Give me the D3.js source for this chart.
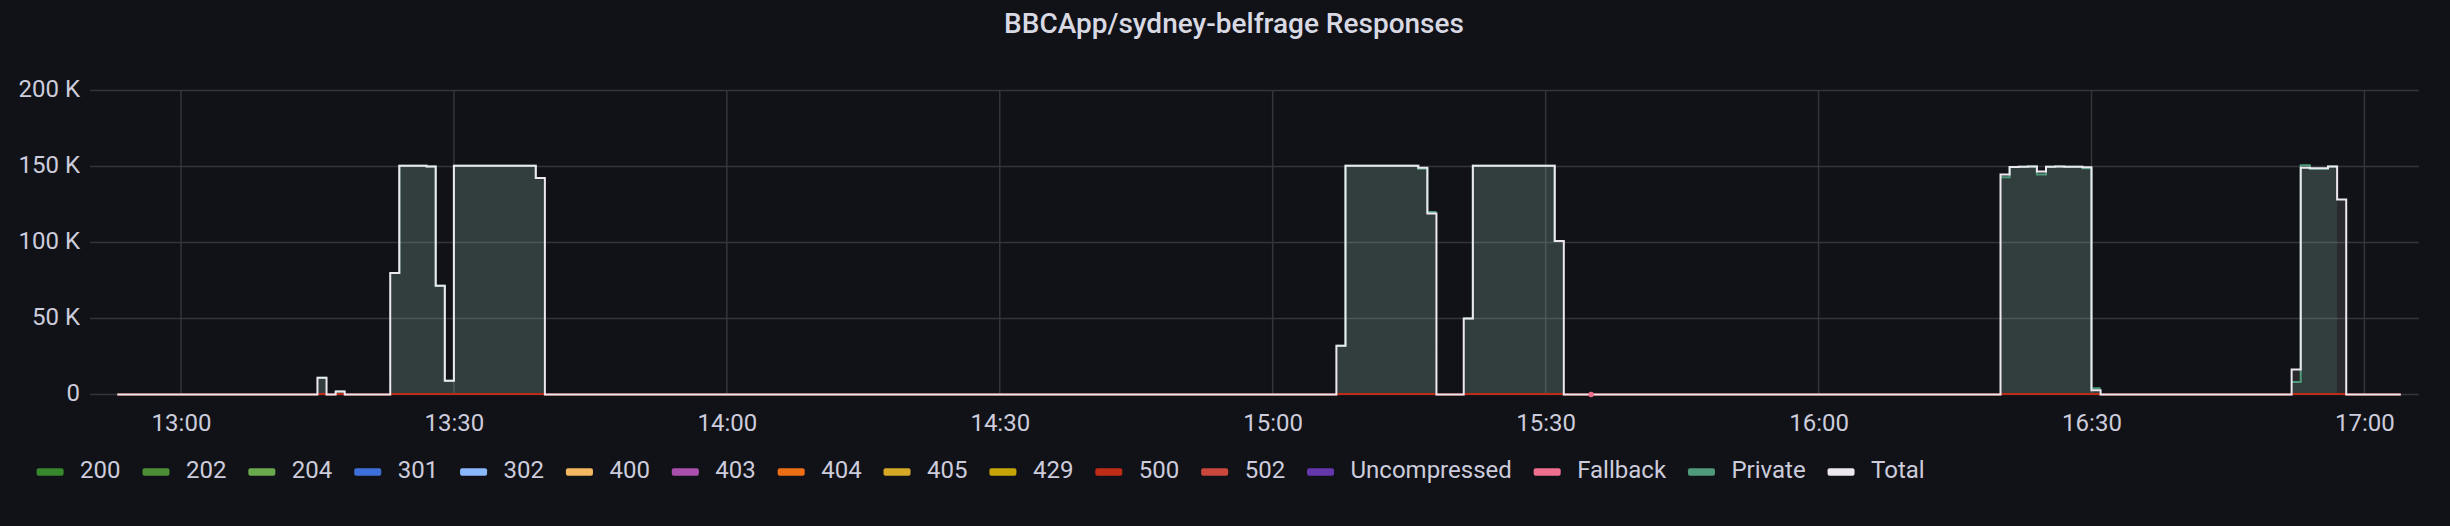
<!DOCTYPE html>
<html><head><meta charset="utf-8">
<script src="https://cdn.jsdelivr.net/npm/d3@7"></script>
<style>html,body{margin:0;padding:0;background:#111217;} svg{display:block}</style>
</head><body>
<svg id="chart" width="2450" height="526"></svg>
<script>
// ---------------- data ----------------
const chartTitle = "BBCApp/sydney-belfrage Responses";
const seriesNames = ["200","202","204","301","302","400","403","404","405","429","500","502","Uncompressed","Fallback","Private","Total"];
const seriesColors = ["#37872d","#4b8e35","#69a84c","#3d71d9","#8ab8ff","#f4b860","#a950ae","#ec6e15","#d6a828","#c4a406","#bf2b17","#c9473b","#6437ad","#ef6f8f","#4e9a7b","#ede7ef"];
const yTickValues = [0, 50000, 100000, 150000, 200000];
const yTickLabels = ["0", "50 K", "100 K", "150 K", "200 K"];
const xTickLabels = ["13:00","13:30","14:00","14:30","15:00","15:30","16:00","16:30","17:00"];
const timeRange = ["12:50", "17:06"];
const dataEnd = "17:04";

// 1-minute samples, given as change points: [minute, value]; value holds until the next entry (null = no data)
const total = [["12:53",0],["13:15",11000],["13:16",0],["13:17",2000],["13:18",0],
  ["13:23",80000],["13:24",150500],["13:27",150000],["13:28",71500],["13:29",9000],["13:30",150500],["13:39",142500],["13:40",0],
  ["15:07",32000],["15:08",150500],["15:16",149100],["15:17",119100],["15:18",0],
  ["15:21",50000],["15:22",150500],["15:31",101000],["15:32",0],
  ["16:20",144700],["16:21",149600],["16:22",149800],["16:23",150000],["16:24",146700],["16:25",149800],["16:26",150000],["16:27",149800],["16:29",149500],["16:30",2800],["16:31",0],
  ["16:52",16400],["16:53",149100],["16:54",148900],["16:56",150000],["16:57",128300],["16:58",0]];
const privateResp = [["13:15",11000],["13:16",null],["13:17",2000],["13:18",null],
  ["13:23",80000],["13:24",150500],["13:27",150000],["13:28",71500],["13:29",9000],["13:30",150500],["13:39",142500],["13:40",null],
  ["15:07",32000],["15:08",150500],["15:16",148500],["15:17",120000],["15:18",null],
  ["15:21",50000],["15:22",150500],["15:31",101000],["15:32",null],
  ["16:20",143000],["16:21",149600],["16:22",149800],["16:23",150000],["16:24",144700],["16:25",149800],["16:26",150000],["16:27",149800],["16:29",148900],["16:30",4100],["16:31",null],
  ["16:52",8300],["16:53",150900],["16:54",148500],["16:56",150000],["16:57",null]];
const status500 = [["12:53",0],["13:15",400],["13:16",0],["13:17",400],["13:18",0],["13:23",400],["13:40",0],
  ["15:07",400],["15:18",0],["15:21",400],["15:32",0],["16:20",400],["16:31",0],["16:52",400],["16:58",0]];
const fallbackPoints = [["15:35",0]];

// ---------------- drawing ----------------
const FONT = "Roboto, 'Noto Sans', sans-serif";
const T = s => { const [h,m] = s.split(":").map(Number); return new Date(2023,0,1,h,m); };
const svg = d3.select("#chart");

const x = d3.scaleTime().domain(timeRange.map(T)).range([90, 2419]);
const y = d3.scaleLinear().domain([0, 200000]).range([394.5, 90.5]);

svg.append("text").attr("x", 1234).attr("y", 33.3).attr("text-anchor","middle")
  .attr("font-family", FONT).attr("font-weight", 500).attr("font-size", 28).attr("fill","#d8d9e3").text(chartTitle);

const grid = svg.append("g");
grid.selectAll("line.h").data(yTickValues).join("line")
  .attr("x1", 90).attr("x2", 2419).attr("y1", d=>y(d)).attr("y2", d=>y(d))
  .attr("stroke","#34353a").attr("stroke-width",1.5);
const xTicks = xTickLabels.map(T);
grid.selectAll("line.v").data(xTicks).join("line")
  .attr("x1", d=>x(d)).attr("x2", d=>x(d)).attr("y1", y(200000)).attr("y2", y(0))
  .attr("stroke","#34353a").attr("stroke-width",1.5);

// axes (D3 axes, restyled)
const yAxis = svg.append("g").attr("transform","translate(80,0)")
  .call(d3.axisLeft(y).tickValues(yTickValues).tickFormat((d,i)=>yTickLabels[i]).tickSize(0).tickPadding(0));
yAxis.select(".domain").remove();
yAxis.selectAll("text").attr("font-family",FONT).attr("font-size",24).attr("fill","#ccccdc").attr("dy","0.27em");

const xAxis = svg.append("g").attr("transform","translate(0,406)")
  .call(d3.axisBottom(x).tickValues(xTicks).tickFormat(d3.timeFormat("%H:%M")).tickSize(0).tickPadding(0));
xAxis.select(".domain").remove();
xAxis.selectAll("text").attr("font-family",FONT).attr("font-size",24).attr("fill","#ccccdc").attr("dy","1.04em");

// convert change points into step segments
function segments(changes, endMinute) {
  const segs = []; let cur = null;
  for (let i = 0; i < changes.length; i++) {
    const [t, v] = changes[i];
    const nextT = i + 1 < changes.length ? changes[i+1][0] : endMinute;
    if (v === null) { cur = null; continue; }
    if (!cur) { cur = []; segs.push(cur); }
    cur.push([T(t), v]);
    const nextV = i + 1 < changes.length ? changes[i+1][1] : null;
    if (nextV === null) { cur.push([T(nextT), v]); cur = null; }
  }
  return segs;
}
const line = d3.line().x(d=>x(d[0])).y(d=>y(d[1])).curve(d3.curveStepAfter);
const area = d3.area().x(d=>x(d[0])).y0(y(0)).y1(d=>y(d[1])).curve(d3.curveStepAfter);
const col = name => seriesColors[seriesNames.indexOf(name)];

const fills = svg.append("g");
const strokes = svg.append("g");
function drawSeries(name, data, fill) {
  const segs = segments(data, dataEnd);
  if (fill) fills.append("g").selectAll("path").data(segs).join("path").attr("d", area).attr("fill", fill);
  strokes.append("g").selectAll("path").data(segs).join("path").attr("d", line)
    .attr("fill","none").attr("stroke", col(name)).attr("stroke-width", 2);
}
drawSeries("500", status500, null);
drawSeries("Private", privateResp, "rgba(78,154,123,0.17)");
drawSeries("Total", total, "rgba(255,255,255,0.1)");
strokes.append("g").selectAll("circle").data(fallbackPoints).join("circle")
  .attr("cx", d=>x(T(d[0]))).attr("cy", d=>y(d[1])).attr("r", 2.8).attr("fill", col("Fallback"));

// legend
const lg = svg.append("g");
let lx = 36.6;
seriesNames.forEach((n, i) => {
  lg.append("rect").attr("x", lx).attr("y", 468.3).attr("width", 27).attr("height", 7.4).attr("rx", 2)
    .attr("fill", seriesColors[i]);
  const t = lg.append("text").attr("x", lx + 43.5).attr("y", 477.7)
    .attr("font-family", FONT).attr("font-size", 24).attr("fill", "#ccccdc").text(n);
  lx += 43.5 + t.node().getComputedTextLength() + 21.9;
});
</script>
</body></html>
